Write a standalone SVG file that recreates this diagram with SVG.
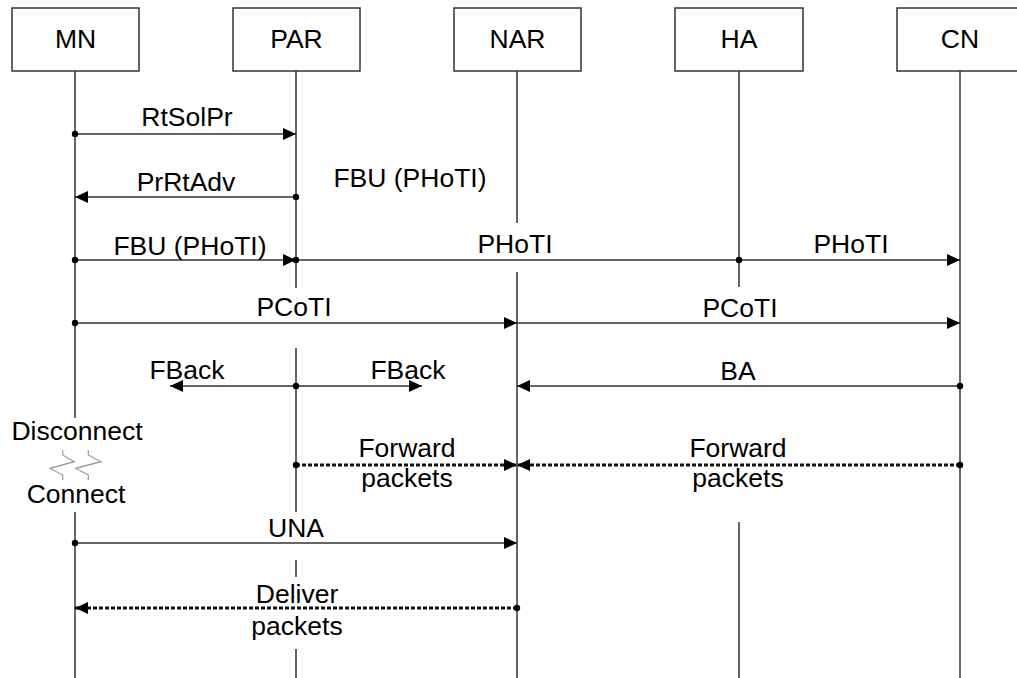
<svg xmlns="http://www.w3.org/2000/svg" width="1017" height="678" viewBox="0 0 1017 678">
<style>
text{font-family:"Liberation Sans",Arial,sans-serif;font-size:26.5px;fill:#000;text-anchor:middle}
.box{fill:#fff;stroke:#333;stroke-width:1.5}
.life{stroke:#333;stroke-width:1.5;fill:none}
.msg{stroke:#333;stroke-width:1.5;fill:none}
.arr{marker-end:url(#ah)}
.dash{stroke:#111;stroke-width:3;stroke-dasharray:4 2;fill:none}
.dot{fill:#000}
.brk{stroke:#999;stroke-width:1.2;fill:none}
</style>
<defs>
<marker id="ah" markerUnits="userSpaceOnUse" markerWidth="14" markerHeight="13" refX="13" refY="6" orient="auto">
<path d="M0,0 L13,6 L0,12 z" fill="#000"/>
</marker>
</defs>
<rect width="1017" height="678" fill="#fff"/>
<g id="MN">
<rect class="box" x="12" y="8" width="127" height="63"/>
<text x="75.5" y="48">MN</text>
<path class="life" d="M75,71 V418 M75,512 V678"/>
</g>
<g id="PAR">
<rect class="box" x="233" y="8" width="127" height="63"/>
<text x="296.5" y="48">PAR</text>
<path class="life" d="M296,71 V288 M296,348 V512 M296,560 V577 M296,649 V678"/>
</g>
<g id="NAR">
<rect class="box" x="454" y="8" width="127" height="63"/>
<text x="517.5" y="48">NAR</text>
<path class="life" d="M517,71 V223 M517,272 V678"/>
</g>
<g id="HA">
<rect class="box" x="675" y="8" width="128" height="63"/>
<text x="739" y="48">HA</text>
<path class="life" d="M739,71 V287 M739,522 V678"/>
</g>
<g id="CN">
<rect class="box" x="897" y="8" width="127" height="63"/>
<text x="960" y="48">CN</text>
<path class="life" d="M960,71 V678"/>
</g>
<g id="connectors">
<path class="msg arr" d="M75,134 H296"/>
<path class="msg arr" d="M296,197 H75"/>
<path class="msg arr" d="M75,260 H296"/>
<path class="msg" d="M296,260 H739"/>
<path class="msg arr" d="M739,260 H960"/>
<path class="msg arr" d="M75,323 H517"/>
<path class="msg arr" d="M517,323 H960"/>
<path class="msg arr" d="M296,386 H170"/>
<path class="msg arr" d="M296,386 H422"/>
<path class="msg arr" d="M960,386 H517"/>
<path class="dash arr" d="M296,465 H517"/>
<path class="dash arr" d="M960,465 H517"/>
<path class="msg arr" d="M75,543 H517"/>
<path class="dash arr" d="M517,608 H75"/>
<circle class="dot" cx="75" cy="134" r="3.2"/>
<circle class="dot" cx="296" cy="197" r="3.2"/>
<circle class="dot" cx="75" cy="260" r="3.2"/>
<circle class="dot" cx="296" cy="260" r="3.2"/>
<circle class="dot" cx="739" cy="260" r="3.2"/>
<circle class="dot" cx="75" cy="323" r="3.2"/>
<circle class="dot" cx="296" cy="386" r="3.2"/>
<circle class="dot" cx="960" cy="386" r="3.2"/>
<circle class="dot" cx="296" cy="465" r="3.2"/>
<circle class="dot" cx="960" cy="465" r="3.2"/>
<circle class="dot" cx="75" cy="543" r="3.2"/>
<circle class="dot" cx="517" cy="608" r="3.2"/>
<path class="brk" d="M62.7,450 V455 L74.3,461.7 L50,468.3 L62.7,475 V480"/>
<path class="brk" d="M88.3,450 V455 L101,461.7 L75.7,468.3 L88.3,475 V480"/>
</g>
<g id="labels">
<text x="187" y="126">RtSolPr</text>
<text x="186" y="191">PrRtAdv</text>
<text x="410" y="187">FBU (PHoTI)</text>
<text x="190" y="255">FBU (PHoTI)</text>
<text x="515" y="253">PHoTI</text>
<text x="851" y="253">PHoTI</text>
<text x="294" y="316">PCoTI</text>
<text x="740" y="317">PCoTI</text>
<text x="187" y="379">FBack</text>
<text x="408" y="379">FBack</text>
<text x="738" y="380">BA</text>
<text x="407" y="457">Forward</text>
<text x="407" y="487">packets</text>
<text x="738" y="457">Forward</text>
<text x="738" y="487">packets</text>
<text x="77" y="440">Disconnect</text>
<text x="76" y="503">Connect</text>
<text x="296" y="537">UNA</text>
<text x="297" y="603">Deliver</text>
<text x="297" y="635">packets</text>
</g>
</svg>
